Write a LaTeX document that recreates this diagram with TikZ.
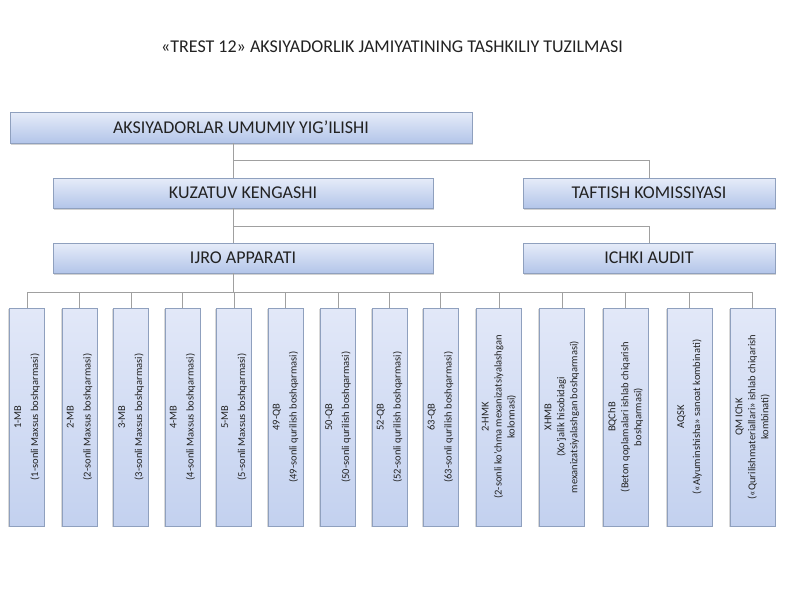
\documentclass[tikz,border=0pt]{standalone}
\usepackage{fontspec}
\setmainfont{Carlito}
\usetikzlibrary{shadows}
\definecolor{bxtop}{HTML}{E6ECF9}
\definecolor{bxbot}{HTML}{B3C5E9}
\definecolor{vbl}{HTML}{E2E8F8}
\definecolor{vbr}{HTML}{C3D1EF}
\definecolor{bxline}{HTML}{8FA0BE}
\definecolor{cn}{HTML}{A0A0A0}
\definecolor{tx}{HTML}{222222}
\tikzset{
  hbox/.style={draw=bxline, line width=0.8pt, top color=bxtop, bottom color=bxbot,
    minimum height=30pt, inner sep=0pt, text=tx,
    font=\fontsize{18}{20}\selectfont,
    drop shadow={shadow xshift=1.2pt, shadow yshift=-1.5pt, opacity=0.35}},
  vbox/.style={draw=bxline, line width=0.8pt, rotate=90, top color=vbl, bottom color=vbr,
    minimum width=218pt, inner sep=1pt, align=center, text=tx,
    font=\fontsize{10.5}{13}\selectfont,
    drop shadow={shadow xshift=-1.5pt, shadow yshift=-1.2pt, opacity=0.3}},
  narrow/.style={minimum height=35pt},
  wide/.style={minimum height=45pt},
  conn/.style={draw=cn, line width=0.8pt},
  ttl/.style={font=\fontsize{18}{20}\selectfont, text=tx}
}
\begin{document}
\begin{tikzpicture}[x=1pt,y=-1pt]
\useasboundingbox[fill=white] (0,0) rectangle (800,600);
\node[ttl] (title) at (392,47) {«TREST 12» AKSIYADORLIK JAMIYATINING TASHKILIY TUZILMASI};

\node[hbox, minimum width=462pt, minimum height=31pt] (top) at (241,127.5) {AKSIYADORLAR UMUMIY YIG'ILISHI};
\node[hbox, minimum width=380pt] (kuz) at (243,193) {KUZATUV KENGASHI};
\node[hbox, minimum width=252pt] (taft) at (649,193) {TAFTISH KOMISSIYASI};
\node[hbox, minimum width=380pt] (ijro) at (243,258) {IJRO APPARATI};
\node[hbox, minimum width=252pt] (ichki) at (649,258) {ICHKI AUDIT};

\node[vbox, narrow] (b1) at (27,417) {1-MB\\[4pt](1-sonli Maxsus boshqarmasi)};
\node[vbox, narrow] (b2) at (79.5,417) {2-MB\\[4pt](2-sonli Maxsus boshqarmasi)};
\node[vbox, narrow] (b3) at (131,417) {3-MB\\[4pt](3-sonli Maxsus boshqarmasi)};
\node[vbox, narrow] (b4) at (182.5,417) {4-MB\\[4pt](4-sonli Maxsus boshqarmasi)};
\node[vbox, narrow] (b5) at (234,417) {5-MB\\[4pt](5-sonli Maxsus boshqarmasi)};
\node[vbox, narrow] (b6) at (285.5,417) {49-QB\\[4pt](49-sonli qurilish boshqarmasi)};
\node[vbox, narrow] (b7) at (338,417) {50-QB\\[4pt](50-sonli qurilish boshqarmasi)};
\node[vbox, narrow] (b8) at (389.5,417) {52-QB\\[4pt](52-sonli qurilish boshqarmasi)};
\node[vbox, narrow] (b9) at (440.5,417) {63-QB\\[4pt](63-sonli qurilish boshqarmasi)};
\node[vbox, wide] (b10) at (499,417) {2-HMK\\(2-sonli ko'chma mexanizatsiyalashgan\\kolonnasi)};
\node[vbox, wide] (b11) at (562,417) {XHMB\\(Xo'jalik hisobidagi\\mexanizatsiyalashgan boshqarmasi)};
\node[vbox, wide] (b12) at (625.5,417) {BQChB\\(Beton qoplamalari ishlab chiqarish\\boshqarmasi)};
\node[vbox, wide] (b13) at (689.5,417) {AQSK\\[3pt](«Alyuminshisha» sanoat kombinati)};
\node[vbox, wide] (b14) at (752.5,417) {QM IChK\\(«Qurilishmateriallari» ishlab chiqarish\\kombinati)};

\coordinate (tr) at (233,0);
\coordinate (j1) at (233,160);
\coordinate (j2) at (233,226);
\coordinate (bus) at (233,292);

\draw[conn] (top.south -| tr) -- (kuz.north -| tr);
\draw[conn] (kuz.south -| tr) -- (ijro.north -| tr);
\draw[conn] (ijro.south -| tr) -- (bus);
\draw[conn] (j1) -| (taft.north);
\draw[conn] (j2) -| (ichki.north);
\draw[conn] (bus -| b1) -- (bus -| b14);
\foreach \b in {b1,b2,b3,b4,b5,b6,b7,b8,b9,b10,b11,b12,b13,b14}
  \draw[conn] (bus -| \b) -- (\b.east);
\end{tikzpicture}
\end{document}
